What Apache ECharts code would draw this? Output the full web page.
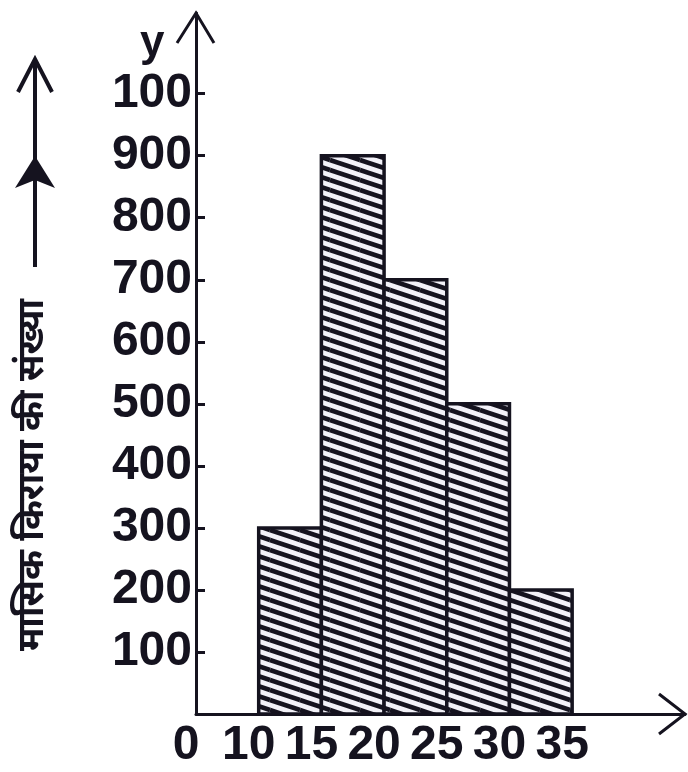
<!DOCTYPE html>
<html>
<head>
<meta charset="utf-8">
<script src="https://cdn.jsdelivr.net/npm/echarts@6/dist/echarts.min.js"></script>
<style>
html,body{margin:0;padding:0;background:#fff;}
#chart{width:688px;height:772px;}
</style>
</head>
<body>
<div id="chart"></div>
<script>
// ---- data ----
const binStart = [10, 15, 20, 25, 30];
const binEnd = [15, 20, 25, 30, 35];
const frequencies = [300, 900, 700, 500, 200];
const xTickValues = [5, 10, 15, 20, 25, 30, 35];
const xTickLabels = ['0', '10', '15', '20', '25', '30', '35'];
const yTickValues = [100, 200, 300, 400, 500, 600, 700, 800, 900, 1000];
const yTickLabels = ['100', '200', '300', '400', '500', '600', '700', '800', '900', '100'];
const yAxisTitle = 'मासिक किराया की संख्या';
const yLetter = 'y';

const INK = '#15131f';
const X_MIN = 5, X_MAX = 44, Y_MIN = 0, Y_MAX = 1130;

// hatch pattern
function makeHatch() {
  const W = 30, H = 10;
  const c = document.createElement('canvas');
  c.width = W; c.height = H;
  const g = c.getContext('2d');
  g.fillStyle = '#f2f1f8';
  g.fillRect(0, 0, W, H);
  g.strokeStyle = INK;
  g.lineWidth = 4.6;
  for (let k = -2; k <= 2; k++) {
    for (let j = -1; j <= 1; j++) {
      g.beginPath();
      g.moveTo(j * W, k * H + j * H);
      g.lineTo(j * W + W, k * H + j * H + H);
      g.stroke();
    }
  }
  return c;
}
const hatch = makeHatch();

const chart = echarts.init(document.getElementById('chart'), null, {renderer: 'canvas'});

const option = {
  backgroundColor: '#ffffff',
  animation: false,
  grid: {left: 196, right: 2, top: 13, bottom: 58, containLabel: false},
  xAxis: {
    type: 'value',
    min: X_MIN, max: X_MAX, interval: 5,
    splitLine: {show: false},
    axisTick: {show: false},
    axisLine: {show: true, onZero: false, lineStyle: {color: INK, width: 3}},
    axisLabel: {
      margin: 8,
      padding: [0, 20, 0, 0],
      color: INK,
      fontFamily: 'Liberation Sans',
      fontWeight: 'bold',
      fontSize: 48,
      formatter: function (v) {
        const i = xTickValues.indexOf(Math.round(v * 100) / 100);
        return i >= 0 ? xTickLabels[i] : '';
      }
    }
  },
  yAxis: {
    type: 'value',
    min: Y_MIN, max: Y_MAX, interval: 100,
    splitLine: {show: false},
    axisTick: {show: true, inside: true, length: 9, customValues: yTickValues, lineStyle: {color: INK, width: 3}},
    axisLine: {show: true, onZero: false, lineStyle: {color: INK, width: 3}},
    axisLabel: {
      margin: 4,
      color: INK,
      fontFamily: 'Liberation Sans',
      fontWeight: 'bold',
      fontSize: 48,
      formatter: function (v) {
        const i = yTickValues.indexOf(v);
        return i >= 0 ? yTickLabels[i] : '';
      }
    }
  },
  series: [{
    type: 'custom',
    data: binStart.map((s, i) => [s, binEnd[i], frequencies[i]]),
    encode: {x: [0, 1], y: 2},
    renderItem: function (params, api) {
      const tl = api.coord([api.value(0), api.value(2)]);
      const br = api.coord([api.value(1), 0]);
      return {
        type: 'rect',
        shape: {x: tl[0], y: tl[1], width: br[0] - tl[0], height: br[1] - tl[1]},
        style: {fill: {image: hatch, repeat: 'repeat'}, stroke: INK, lineWidth: 3.5}
      };
    }
  }],
  graphic: [
    {type: 'text', left: 140, top: 22, style: {text: yLetter, fill: INK, font: 'bold 44px "Liberation Sans"'}},
    {type: 'line', shape: {x1: 35, y1: 60, x2: 35, y2: 267}, style: {stroke: INK, lineWidth: 4}},
    {type: 'polyline', shape: {points: [[18, 92], [35, 59], [52, 92]]}, style: {stroke: INK, lineWidth: 4, fill: null}},
    {type: 'polygon', shape: {points: [[15, 188], [35, 156], [55, 188], [35, 180]]}, style: {fill: INK}},
    {type: 'text', x: 33, y: 475, rotation: Math.PI / 2,
     style: {text: yAxisTitle, fill: INK, font: 'bold 36px "Noto Sans"', align: 'center', verticalAlign: 'middle'}}
  ]
};
chart.setOption(option);

// axis arrowheads placed at the axis ends
const yTop = chart.convertToPixel({gridIndex: 0}, [X_MIN, Y_MAX]);
const xEnd = chart.convertToPixel({gridIndex: 0}, [X_MAX, Y_MIN]);
chart.setOption({
  graphic: option.graphic.concat([
    {type: 'polyline', shape: {points: [[yTop[0] - 19, yTop[1] + 30], [yTop[0], yTop[1]], [yTop[0] + 18, yTop[1] + 30]]},
     style: {stroke: INK, lineWidth: 3, fill: null}},
    {type: 'polyline', shape: {points: [[xEnd[0] - 26, xEnd[1] - 20], [xEnd[0], xEnd[1]], [xEnd[0] - 26, xEnd[1] + 20]]},
     style: {stroke: INK, lineWidth: 3, fill: null}}
  ])
});
</script>
</body>
</html>
